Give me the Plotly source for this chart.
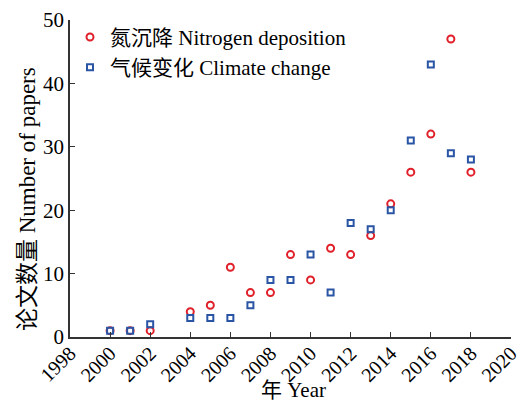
import plotly.graph_objects as go

years_n = [2000, 2001, 2002, 2004, 2005, 2006, 2007, 2008, 2009, 2010, 2011, 2012, 2013, 2014, 2015, 2016, 2017, 2018]
nitrogen = [1, 1, 1, 4, 5, 11, 7, 7, 13, 9, 14, 13, 16, 21, 26, 32, 47, 26]
years_c = [2000, 2001, 2002, 2004, 2005, 2006, 2007, 2008, 2009, 2010, 2011, 2012, 2013, 2014, 2015, 2016, 2017, 2018]
climate = [1, 1, 2, 3, 3, 3, 5, 9, 9, 13, 7, 18, 17, 20, 31, 43, 29, 28]
name_n = "氮沉降 Nitrogen deposition"
name_c = "气候变化 Climate change"
x_title = "年 Year"
y_title = "论文数量 Number of papers"
x_ticks = list(range(1998, 2021, 2))
y_ticks = [0, 10, 20, 30, 40, 50]

FONT = "Liberation Serif, Times New Roman, Noto Sans CJK SC, serif"

fig = go.Figure()
fig.add_trace(go.Scatter(
    x=years_n, y=nitrogen, mode="markers", name=name_n,
    marker=dict(symbol="circle-open", size=7, color="#e0202a", line=dict(width=2, color="#e0202a")),
    cliponaxis=False,
))
fig.add_trace(go.Scatter(
    x=years_c, y=climate, mode="markers", name=name_c,
    marker=dict(symbol="square-open", size=6, color="#2a55a5", line=dict(width=2, color="#2a55a5")),
    cliponaxis=False,
))

fig.update_layout(
    width=526, height=404, autosize=False,
    margin=dict(l=70, r=15, t=20, b=67),
    paper_bgcolor="white", plot_bgcolor="white",
    font=dict(family=FONT, size=20, color="#000"),
    showlegend=True,
    legend=dict(x=0.0, y=1.01, xanchor="left", yanchor="top",
                font=dict(family=FONT, size=21, color="#000"),
                bgcolor="rgba(0,0,0,0)", itemwidth=30, tracegroupgap=0),
    annotations=[
        dict(text=x_title, xref="paper", yref="paper", x=0.507, y=-0.168,
             xanchor="center", yanchor="middle", showarrow=False,
             font=dict(family=FONT, size=21, color="#000")),
        dict(text=y_title, xref="paper", yref="paper", x=-0.0975, y=0.435,
             xanchor="center", yanchor="middle", showarrow=False, textangle=-90,
             font=dict(family=FONT, size=23, color="#000")),
    ],
)
fig.update_xaxes(
    range=[1998, 2020], tickvals=x_ticks, ticktext=[str(v) for v in x_ticks],
    tickangle=-45, ticks="inside", ticklen=5, tickcolor="#333",
    showline=True, linecolor="#333", linewidth=1.5, showgrid=False, zeroline=False,
    tickfont=dict(family=FONT, size=20), automargin=False, ticklabelstandoff=-5,
)
fig.update_yaxes(
    range=[0, 50], tickvals=y_ticks, ticks="inside", ticklen=5, tickcolor="#333",
    showline=True, linecolor="#333", linewidth=1.5, showgrid=False, zeroline=False,
    tickfont=dict(family=FONT, size=21), automargin=False,
)

fig.write_html("out.html")
